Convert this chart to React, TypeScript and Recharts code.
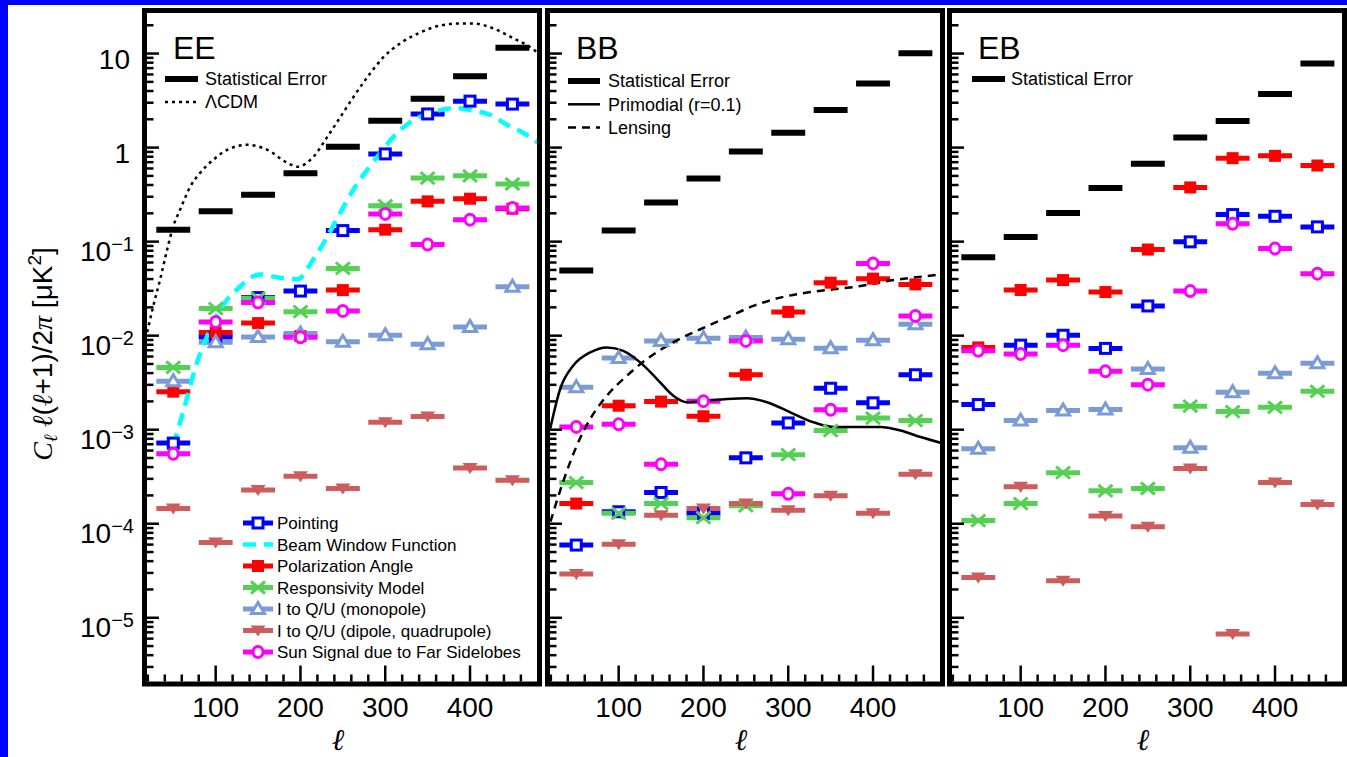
import React from 'react';
import { ComposedChart, Scatter, Line, XAxis, YAxis, ErrorBar } from 'recharts';

// multipole bin centres, each bin is +-20 wide
const ELL = [50, 100, 150, 200, 250, 300, 350, 400, 450];
const BIN_HALF = 20;

// EE
const eeStat = [0.134, 0.211, 0.315, 0.535, 1.02, 1.93, 3.3, 5.75, 11.5];
const eePointing = [7.2e-4, 9.7e-3, 0.0254, 0.0298, 0.131, 0.857, 2.28, 3.12, 2.9];
const eePolAngle = [2.54e-3, 0.0108, 0.0136, 0.0099, 0.0305, 0.134, 0.268, 0.286, 0.224];
const eeResp = [4.6e-3, 0.0194, 0.025, 0.018, 0.0519, 0.241, 0.474, 0.501, 0.41];
const eeMono = [3.27e-3, 8.5e-3, 9.7e-3, 0.01055, 8.6e-3, 0.0101, 8.1e-3, 0.0124, 0.0332];
const eeDipole = [1.45e-4, 6.3e-5, 2.28e-4, 3.19e-4, 2.37e-4, 1.2e-3, 1.38e-3, 3.92e-4, 2.9e-4];
const eeSun = [5.55e-4, 0.014, 0.0225, 9.6e-3, 0.0183, 0.197, 0.0932, 0.171, 0.228];

// BB
const bbStat = [0.0494, 0.131, 0.26, 0.468, 0.908, 1.44, 2.51, 4.81, 10.1];
const bbPointing = [5.93e-5, 1.34e-4, 2.15e-4, 1.29e-4, 5.02e-4, 1.18e-3, 2.76e-3, 1.93e-3, 3.84e-3];
const bbPolAngle = [1.64e-4, 1.8e-3, 1.99e-3, 1.39e-3, 3.84e-3, 0.0179, 0.0366, 0.0404, 0.0351];
const bbResp = [2.74e-4, 1.29e-4, 1.64e-4, 1.16e-4, 1.55e-4, 5.43e-4, 9.8e-4, 1.33e-3, 1.25e-3];
const bbMono = [2.83e-3, 5.78e-3, 8.8e-3, 9.4e-3, 9.57e-3, 9.18e-3, 7.37e-3, 8.96e-3, 0.01324];
const bbDipole = [2.92e-5, 6.04e-5, 1.23e-4, 1.45e-4, 1.64e-4, 1.39e-4, 1.98e-4, 1.29e-4, 3.35e-4];
const bbSun = [1.07e-3, 1.14e-3, 4.28e-4, 2.01e-3, 8.8e-3, 2.08e-4, 1.63e-3, 0.0586, 0.0162];

// EB
const ebStat = [0.0684, 0.112, 0.202, 0.371, 0.672, 1.28, 1.92, 3.71, 7.84];
const ebPointing = [1.85e-3, 7.93e-3, 0.0101, 7.32e-3, 0.0207, 0.0995, 0.194, 0.186, 0.1435];
const ebPolAngle = [7.5e-3, 0.0306, 0.039, 0.0291, 0.0824, 0.377, 0.772, 0.817, 0.645];
const ebResp = [1.08e-4, 1.64e-4, 3.49e-4, 2.24e-4, 2.37e-4, 1.78e-3, 1.56e-3, 1.73e-3, 2.56e-3];
const ebMono = [6.28e-4, 1.25e-3, 1.6e-3, 1.64e-3, 4.42e-3, 6.44e-4, 2.5e-3, 3.98e-3, 5.08e-3];
const ebDipole = [2.68e-5, 2.47e-4, 2.47e-5, 1.21e-4, 9.3e-5, 3.86e-4, 6.7e-6, 2.74e-4, 1.6e-4];
const ebSun = [6.9e-3, 6.37e-3, 7.93e-3, 4.18e-3, 3.01e-3, 0.0298, 0.155, 0.0845, 0.0456];

// theory / window curves
const lcdmL = [19.2, 26.3, 34.5, 42.8, 49.9, 58.1, 70, 81.8, 97.1, 113.6, 137.2, 160.9, 184.5, 196.3, 215.2, 231.7, 247, 262.4, 278.9, 297.8, 317.9, 341.5, 365.1, 388.7, 404.1, 427.7, 451.3, 467.8, 480.8];
const lcdmC = [0.0109, 0.0205, 0.0397, 0.0826, 0.145, 0.219, 0.384, 0.54, 0.741, 0.946, 1.07, 0.946, 0.689, 0.625, 0.797, 1.3, 2.11, 3.44, 5.61, 9.14, 12.9, 16.8, 19.9, 20.9, 20.9, 18.5, 14.5, 12.2, 10.1];
const beamL = [49.9, 61.7, 78.2, 90, 105.4, 125.4, 152.6, 172.7, 196.3, 215.2, 231.7, 247, 262.4, 278.9, 294.3, 309.6, 333.2, 356.8, 380.5, 400.5, 424.1, 444.2, 463.1, 480.8];
const beamC = [6.75e-4, 1.55e-3, 5.24e-3, 9.9e-3, 0.0191, 0.0311, 0.0448, 0.0417, 0.0397, 0.0647, 0.113, 0.203, 0.356, 0.581, 0.879, 1.3, 1.96, 2.39, 2.63, 2.51, 2.22, 1.74, 1.43, 1.12];
const primL = [19.2, 31, 46.3, 66.4, 86.1, 105.4, 125.4, 145.2, 164.4, 180.6, 204.2, 227.8, 251.4, 275, 302.5, 329.7, 353.3, 381.3, 408.8, 432.4, 456, 479.6];
const primC = [1.02e-3, 2.71e-3, 4.79e-3, 6.64e-3, 7.5e-3, 6.9e-3, 5.2e-3, 3.46e-3, 2.3e-3, 1.96e-3, 2.04e-3, 2.12e-3, 2.16e-3, 1.96e-3, 1.53e-3, 1.2e-3, 1.07e-3, 1.07e-3, 1.07e-3, 9.8e-4, 8.35e-4, 7.27e-4];
const lensL = [19.5, 34.5, 50.7, 66.4, 86.1, 109.7, 133.3, 164.4, 196.3, 227.8, 258.8, 290.7, 322.2, 353.3, 385.2, 416.7, 447.8, 479.6];
const lensC = [1.05e-4, 2.8e-4, 6.8e-4, 1.3e-3, 2.3e-3, 3.75e-3, 5.64e-3, 8.5e-3, 0.0117, 0.0156, 0.0207, 0.0254, 0.0287, 0.0311, 0.0337, 0.0381, 0.0414, 0.0449];

// axes
const X_DOMAIN = [19, 479];
const X_TICKS = [20, 40, 60, 80, 100, 120, 140, 160, 180, 200, 220, 240, 260, 280, 300, 320, 340, 360, 380, 400, 420, 440, 460];
const Y_DOMAIN = [2.1e-6, 27];
const Y_DECADES = [1e-6, 1e-5, 1e-4, 1e-3, 1e-2, 0.1, 1, 10];
const Y_TICKS = Y_DECADES.flatMap((d) => [1, 2, 3, 4, 5, 6, 7, 8, 9].map((m) => m * d)).filter(
  (t) => t >= Y_DOMAIN[0] && t <= Y_DOMAIN[1]
);

const FONT = '"Liberation Sans", Arial, sans-serif';
const SERIF = '"Liberation Serif", "DejaVu Serif", serif';

const STYLE: Record<string, { color: string; marker: string; thick: number }> = {
  stat: { color: '#000000', marker: 'none', thick: 6 },
  pointing: { color: '#0000ff', marker: 'openSquare', thick: 5 },
  polAngle: { color: '#ff0000', marker: 'square', thick: 5 },
  resp: { color: '#55d055', marker: 'cross', thick: 5 },
  mono: { color: '#7b9bd6', marker: 'openTriangle', thick: 5 },
  dipole: { color: '#cd5c5c', marker: 'triangleDown', thick: 5 },
  sun: { color: '#ff00ff', marker: 'openCircle', thick: 5 },
};
const LINE_STYLE: Record<string, { color: string; width: number; dash?: string }> = {
  lcdm: { color: '#000000', width: 2.5, dash: '3 4' },
  beam: { color: '#00ffff', width: 4.5, dash: '13 8' },
  primordial: { color: '#000000', width: 2.5 },
  lensing: { color: '#000000', width: 2.5, dash: '8 6' },
};

const TOP = 13;
const BOTTOM = 681.5;
const H = 757;
const PW = 390;
const ML = 150;
const MR = 10;

const toPts = (vals: number[]) => ELL.map((l, i) => ({ l, v: vals[i], ex: BIN_HALF }));
const toCurve = (ls: number[], vs: number[]) => ls.map((l, i) => ({ l, v: vs[i] }));

const Marker = ({ kind, color, cx, cy }: { kind: string; color: string; cx: number; cy: number }) => {
  switch (kind) {
    case 'openSquare':
      return <rect x={cx - 5} y={cy - 5} width={10} height={10} fill="#fff" stroke={color} strokeWidth={3} />;
    case 'square':
      return <rect x={cx - 6} y={cy - 6} width={12} height={12} fill={color} />;
    case 'cross':
      return (
        <g stroke={color} strokeWidth={3}>
          <line x1={cx - 7} y1={cy - 6} x2={cx + 7} y2={cy + 6} />
          <line x1={cx - 7} y1={cy + 6} x2={cx + 7} y2={cy - 6} />
        </g>
      );
    case 'openTriangle':
      return (
        <polygon
          points={`${cx},${cy - 6.5} ${cx - 6.5},${cy + 4.5} ${cx + 6.5},${cy + 4.5}`}
          fill="#fff"
          stroke={color}
          strokeWidth={3}
        />
      );
    case 'triangleDown':
      return <polygon points={`${cx - 7.5},${cy - 5} ${cx + 7.5},${cy - 5} ${cx},${cy + 6}`} fill={color} />;
    case 'openCircle':
      return <ellipse cx={cx} cy={cy} rx={5} ry={5.5} fill="#fff" stroke={color} strokeWidth={3} />;
    default:
      return <g />;
  }
};

const XTick = (props: any) => {
  const { x, y, payload } = props;
  const major = payload.value % 100 === 0;
  return (
    <g>
      <line x1={x} x2={x} y1={y} y2={y - (major ? 16 : 7)} stroke="#000" strokeWidth={2.5} />
      {major && (
        <text x={x} y={y + 35} textAnchor="middle" fontSize={28} fontFamily={FONT} fill="#000">
          {payload.value}
        </text>
      )}
    </g>
  );
};

const YTick = (props: any) => {
  const { x, y, payload, showLabel } = props;
  const lg = Math.log10(payload.value);
  const exp = Math.round(lg);
  const major = Math.abs(lg - exp) < 1e-9;
  let label = null;
  if (major && showLabel) {
    label =
      exp >= 0 ? (
        <text x={x - 17} y={y + 15.5} textAnchor="end" fontSize={28} fontFamily={FONT} fill="#000">
          {exp === 0 ? '1' : '10'}
        </text>
      ) : (
        <text x={x - 13} y={y + 19} textAnchor="end" fontSize={28} fontFamily={FONT} fill="#000">
          10
          <tspan dy={-10} fontSize={20}>
            {'\u2212' + -exp}
          </tspan>
        </text>
      );
  }
  return (
    <g>
      <line x1={x} x2={x + (major ? 12 : 6.5)} y1={y} y2={y} stroke="#000" strokeWidth={2.5} />
      {label}
    </g>
  );
};

type Series = { key: string; values: number[] };
type Curve = { key: string; l: number[]; v: number[] };

// axes get a 1px size (a zero-size axis is not drawn), margins compensate
const Panel = ({ left, series, curves, yLabels }: { left: number; series: Series[]; curves: Curve[]; yLabels: boolean }) => (
  <div style={{ position: 'absolute', left: left - ML, top: 0 }}>
    <ComposedChart
      width={ML + PW + MR}
      height={H}
      margin={{ top: TOP, right: MR, bottom: H - BOTTOM - 1, left: ML - 1 }}
    >
      <XAxis
        dataKey="l"
        type="number"
        domain={X_DOMAIN}
        ticks={X_TICKS}
        interval={0}
        height={1}
        tickSize={0}
        tickMargin={0}
        axisLine={false}
        tickLine={false}
        tick={<XTick />}
        allowDataOverflow
      />
      <YAxis
        dataKey="v"
        type="number"
        scale="log"
        domain={Y_DOMAIN}
        ticks={Y_TICKS}
        interval={0}
        width={1}
        tickSize={0}
        tickMargin={0}
        axisLine={false}
        tickLine={false}
        tick={<YTick showLabel={yLabels} />}
        allowDataOverflow
      />
      {series.map((s) => {
        const st = STYLE[s.key];
        return (
          <Scatter
            key={s.key}
            data={toPts(s.values)}
            isAnimationActive={false}
            shape={(p: any) => <Marker kind={st.marker} color={st.color} cx={p.cx} cy={p.cy} />}
          >
            <ErrorBar dataKey="ex" direction="x" width={0} stroke={st.color} strokeWidth={st.thick} />
          </Scatter>
        );
      })}
      {curves.map((c) => {
        const st = LINE_STYLE[c.key];
        return (
          <Line
            key={c.key}
            data={toCurve(c.l, c.v)}
            dataKey="v"
            type="monotone"
            stroke={st.color}
            strokeWidth={st.width}
            strokeDasharray={st.dash}
            dot={false}
            activeDot={false}
            isAnimationActive={false}
          />
        );
      })}
    </ComposedChart>
  </div>
);

const PANELS = [
  {
    name: 'EE',
    left: 147,
    series: [
      { key: 'stat', values: eeStat },
      { key: 'pointing', values: eePointing },
      { key: 'polAngle', values: eePolAngle },
      { key: 'resp', values: eeResp },
      { key: 'mono', values: eeMono },
      { key: 'dipole', values: eeDipole },
      { key: 'sun', values: eeSun },
    ],
    curves: [
      { key: 'lcdm', l: lcdmL, v: lcdmC },
      { key: 'beam', l: beamL, v: beamC },
    ],
  },
  {
    name: 'BB',
    left: 550,
    series: [
      { key: 'stat', values: bbStat },
      { key: 'pointing', values: bbPointing },
      { key: 'polAngle', values: bbPolAngle },
      { key: 'resp', values: bbResp },
      { key: 'mono', values: bbMono },
      { key: 'dipole', values: bbDipole },
      { key: 'sun', values: bbSun },
    ],
    curves: [
      { key: 'primordial', l: primL, v: primC },
      { key: 'lensing', l: lensL, v: lensC },
    ],
  },
  {
    name: 'EB',
    left: 952,
    series: [
      { key: 'stat', values: ebStat },
      { key: 'pointing', values: ebPointing },
      { key: 'polAngle', values: ebPolAngle },
      { key: 'resp', values: ebResp },
      { key: 'mono', values: ebMono },
      { key: 'dipole', values: ebDipole },
      { key: 'sun', values: ebSun },
    ],
    curves: [],
  },
];

type LegendItem = { label: string; key: string; line?: boolean };

const LEGENDS: { x: number; y0: number; dy: number; w: number; gap: number; fs: number; items: LegendItem[] }[] = [
  {
    x: 165, y0: 79, dy: 23, w: 33, gap: 40, fs: 18,
    items: [
      { label: 'Statistical Error', key: 'stat' },
      { label: '\u039bCDM', key: 'lcdm', line: true },
    ],
  },
  {
    x: 243, y0: 523, dy: 21.5, w: 30, gap: 34, fs: 17,
    items: [
      { label: 'Pointing', key: 'pointing' },
      { label: 'Beam Window Function', key: 'beam', line: true },
      { label: 'Polarization Angle', key: 'polAngle' },
      { label: 'Responsivity Model', key: 'resp' },
      { label: 'I to Q/U (monopole)', key: 'mono' },
      { label: 'I to Q/U (dipole, quadrupole)', key: 'dipole' },
      { label: 'Sun Signal due to Far Sidelobes', key: 'sun' },
    ],
  },
  {
    x: 568, y0: 81, dy: 23.3, w: 32, gap: 40, fs: 18,
    items: [
      { label: 'Statistical Error', key: 'stat' },
      { label: 'Primodial (r=0.1)', key: 'primordial', line: true },
      { label: 'Lensing', key: 'lensing', line: true },
    ],
  },
  {
    x: 972, y0: 79, dy: 23, w: 33, gap: 39, fs: 18,
    items: [{ label: 'Statistical Error', key: 'stat' }],
  },
];

const LegendSymbol = ({ item, x, cy, w }: { item: LegendItem; x: number; cy: number; w: number }) => {
  if (item.line) {
    const st = LINE_STYLE[item.key];
    return <line x1={x} x2={x + w} y1={cy} y2={cy} stroke={st.color} strokeWidth={st.width} strokeDasharray={st.dash} />;
  }
  const st = STYLE[item.key];
  return (
    <g>
      <line x1={x} x2={x + w} y1={cy} y2={cy} stroke={st.color} strokeWidth={st.thick} />
      <Marker kind={st.marker} color={st.color} cx={x + w / 2} cy={cy} />
    </g>
  );
};

export default function App() {
  return (
    <div
      style={{
        position: 'absolute',
        left: 0,
        top: 0,
        width: 1347,
        height: H,
        overflow: 'hidden',
        background: '#fff',
        fontFamily: FONT,
      }}
    >
      {PANELS.map((p) => (
        <Panel key={p.name} left={p.left} series={p.series} curves={p.curves} yLabels={p.name === 'EE'} />
      ))}
      <svg width={1347} height={H} style={{ position: 'absolute', left: 0, top: 0, pointerEvents: 'none' }}>
        {PANELS.map((p) => (
          <g key={p.name}>
            <rect
              x={p.left - 2.5}
              y={TOP - 2.5}
              width={PW + 5}
              height={BOTTOM - TOP + 5}
              fill="none"
              stroke="#000"
              strokeWidth={5}
            />
            <text x={p.left + 26} y={59} fontSize={32} fontFamily={FONT} fill="#000">
              {p.name}
            </text>
            <text
              x={p.left + PW / 2 - 4}
              y={750}
              textAnchor="middle"
              fontSize={30}
              fontFamily={SERIF}
              fontStyle="italic"
              fill="#000"
            >
              {'\u2113'}
            </text>
          </g>
        ))}
        {LEGENDS.map((lg, li) => (
          <g key={li}>
            {lg.items.map((it, i) => {
              const cy = lg.y0 + i * lg.dy;
              return (
                <g key={it.label}>
                  <LegendSymbol item={it} x={lg.x} cy={cy} w={lg.w} />
                  <text x={lg.x + lg.gap} y={cy + lg.fs * 0.36} fontSize={lg.fs} fontFamily={FONT} fill="#000">
                    {it.label}
                  </text>
                </g>
              );
            })}
          </g>
        ))}
        <text transform="translate(52,354) rotate(-90)" textAnchor="middle" fontSize={28} fontFamily={FONT} fill="#000">
          <tspan fontFamily={SERIF} fontStyle="italic">C</tspan>
          <tspan fontFamily={SERIF} fontStyle="italic" fontSize={19} dy={5}>{'\u2113'}</tspan>
          <tspan fontFamily={SERIF} fontStyle="italic" dy={-5}>{' \u2113'}</tspan>
          <tspan>(</tspan>
          <tspan fontFamily={SERIF} fontStyle="italic">{'\u2113'}</tspan>
          <tspan>+1)/2</tspan>
          <tspan fontFamily={SERIF} fontStyle="italic">{'\u03c0'}</tspan>
          <tspan>{' [\u03bcK'}</tspan>
          <tspan fontSize={19} dy={-11}>2</tspan>
          <tspan dy={11}>]</tspan>
        </text>
      </svg>
      <div style={{ position: 'absolute', left: 0, top: 0, width: 8, height: H, background: '#0000ff' }} />
      <div style={{ position: 'absolute', left: 0, top: 0, width: 1347, height: 5, background: '#0000ff' }} />
    </div>
  );
}
